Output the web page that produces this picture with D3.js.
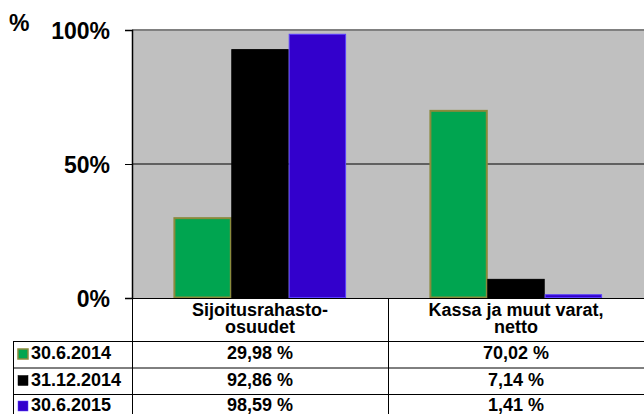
<!DOCTYPE html>
<html>
<head>
<meta charset="utf-8">
<script src="https://cdn.jsdelivr.net/npm/d3@7"></script>
<style>
  body { margin: 0; background: #fff; }
  text { font-family: "Liberation Sans", Arial, sans-serif; font-weight: bold; fill: #000; }
</style>
</head>
<body>
<svg id="chart" width="644" height="414"></svg>
<script>
const categories = [["Sijoitusrahasto-", "osuudet"], ["Kassa ja muut varat,", "netto"]];
const series = ["30.6.2014", "31.12.2014", "30.6.2015"];
const values = [
    [29.98, 70.02],
    [92.86, 7.14],
    [98.59, 1.41]
];
const valueLabels = [
    ["29,98 %", "70,02 %"],
    ["92,86 %", "7,14 %"],
    ["98,59 %", "1,41 %"]
];
const yTicks = [0, 50, 100];
const colors = ["#00a550", "#000000", "#3300cc"];
const strokes = ["#8a8a3c", "#000000", "#5a40ff"];

const svg = d3.select('#chart');
const plot_left = 132, plot_right = 644, plot_top = 30, plot_bottom = 298;

const y = d3.scaleLinear().domain([0, 100]).range([plot_bottom, plot_top]);
const catKeys = categories.map((c, i) => i);
const x0 = d3.scaleBand().domain(catKeys).range([plot_left, plot_right]);
const x1 = d3.scaleBand().domain(d3.range(series.length)).range([0, x0.bandwidth()]).paddingOuter(0.73);

// plot area
svg.append('rect')
    .attr('x', plot_left).attr('y', plot_top)
    .attr('width', plot_right - plot_left).attr('height', plot_bottom - plot_top)
    .attr('fill', '#c0c0c0');

// gridlines
svg.append('g').selectAll('line').data(yTicks.filter(d => d > 0)).join('line')
    .attr('x1', plot_left).attr('x2', plot_right)
    .attr('y1', d => y(d)).attr('y2', d => y(d))
    .attr('stroke', d => d === 100 ? '#808080' : '#000')
    .attr('stroke-width', d => d === 100 ? 2 : 1);

// bars
series.forEach((s, si) => {
    svg.append('g').selectAll('rect').data(values[si]).join('rect')
        .attr('x', (d, ci) => x0(ci) + x1(si) + 0.5)
        .attr('y', d => y(d) + 0.5)
        .attr('width', x1.bandwidth() - 1)
        .attr('height', d => Math.max(0, plot_bottom - y(d) - 1))
        .attr('fill', colors[si])
        .attr('stroke', strokes[si])
        .attr('stroke-width', si === 0 ? 2 : 1);
});

// y axis
const yAxis = d3.axisLeft(y).tickValues(yTicks).tickSize(7).tickFormat(d => d + '%');
const ya = svg.append('g').attr('transform', `translate(${plot_left},0)`).call(yAxis);
ya.select('.domain').attr('stroke', '#000').attr('stroke-width', 1.5);
ya.selectAll('.tick line').attr('stroke', '#000');
ya.selectAll('.tick text')
    .attr('x', -22).attr('dy', '0.35em')
    .style('font-size', '23px').style('font-family', '"Liberation Sans", Arial, sans-serif')
    .style('font-weight', 'bold').attr('fill', '#000');

svg.append('text').text('%').attr('x', 9).attr('y', 31).style('font-size', '23px');

// data table
const rowLines = [341.5, 368, 394.5];
const tbl = svg.append('g').attr('stroke', '#000').attr('stroke-width', 1);
tbl.append('line').attr('x1', plot_left).attr('x2', plot_right).attr('y1', plot_bottom + 0.5).attr('y2', plot_bottom + 0.5);
rowLines.forEach(ry => {
    tbl.append('line').attr('x1', 13).attr('x2', plot_right).attr('y1', ry).attr('y2', ry);
});
tbl.append('line').attr('x1', 13.5).attr('x2', 13.5).attr('y1', rowLines[0]).attr('y2', 414);
[plot_left, x0(1)].forEach(vx => {
    tbl.append('line').attr('x1', vx + 0.5).attr('x2', vx + 0.5).attr('y1', plot_bottom).attr('y2', 414);
});

// category headers
categories.forEach((lines, ci) => {
    const t = svg.append('text')
        .attr('x', x0(ci) + x0.bandwidth() / 2)
        .attr('text-anchor', 'middle')
        .style('font-size', '18px');
    lines.forEach((ln, li) => {
        t.append('tspan').attr('x', x0(ci) + x0.bandwidth() / 2).attr('y', 316 + li * 17).text(ln);
    });
});

// rows
const rowBase = [359, 385.5, 411];
series.forEach((s, si) => {
    svg.append('rect')
        .attr('x', 18).attr('y', rowBase[si] - 10)
        .attr('width', 10).attr('height', 10)
        .attr('fill', colors[si])
        .attr('stroke', strokes[si]).attr('stroke-width', si === 0 ? 1.5 : 0.5);
    svg.append('text').text(s)
        .attr('x', 31).attr('y', rowBase[si])
        .style('font-size', '18px');
    valueLabels[si].forEach((lbl, ci) => {
        svg.append('text').text(lbl)
            .attr('x', x0(ci) + x0.bandwidth() / 2)
            .attr('y', rowBase[si])
            .attr('text-anchor', 'middle')
            .style('font-size', '18px');
    });
});
</script>
</body>
</html>
